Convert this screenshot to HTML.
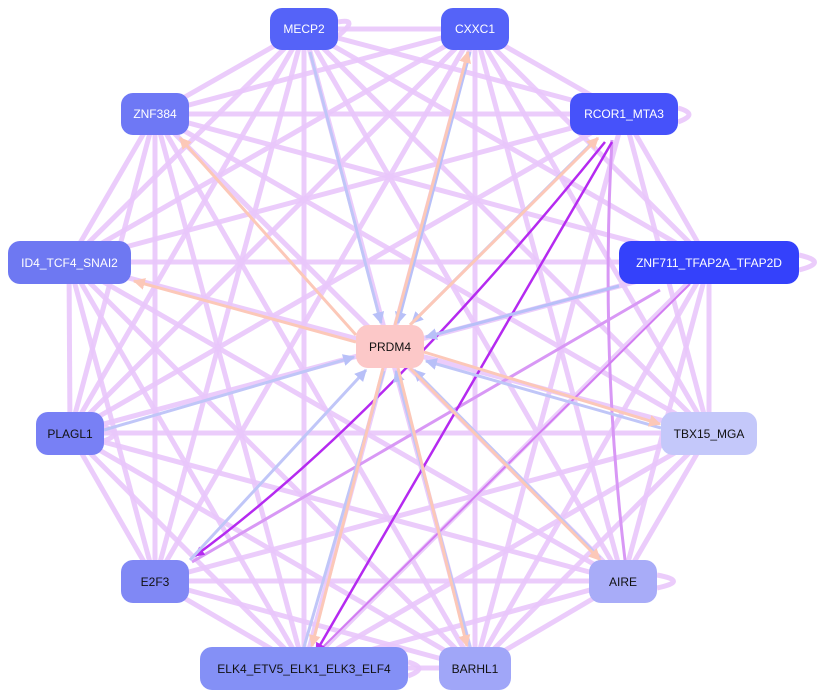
<!DOCTYPE html>
<html><head><meta charset="utf-8"><style>
body{margin:0;width:830px;height:698px;background:#fff;overflow:hidden}
svg{position:absolute;left:0;top:0}
.n{position:absolute;border-radius:12px;font:12px "Liberation Sans",sans-serif;display:flex;align-items:center;justify-content:center;color:#fff}
.d{color:#111}
</style></head><body>
<svg width="830" height="698">
<defs>
<marker id="ab" viewBox="0 0 10 10" refX="9" refY="5" markerWidth="4" markerHeight="4" orient="auto"><path d="M0 0L10 5L0 10z" fill="#b8c0f8"/></marker>
<marker id="ap" viewBox="0 0 10 10" refX="9" refY="5" markerWidth="4" markerHeight="4" orient="auto"><path d="M0 0L10 5L0 10z" fill="#fcc8b8"/></marker>
<marker id="am" viewBox="0 0 10 10" refX="9" refY="5" markerWidth="4" markerHeight="4" orient="auto"><path d="M0 0L10 5L0 10z" fill="#b52af0"/></marker>
</defs>
<g stroke="#e9c6fb" stroke-width="5" stroke-opacity="0.9" fill="none">
<line x1="304" y1="29" x2="475" y2="29"/><line x1="304" y1="29" x2="155" y2="114"/><line x1="304" y1="29" x2="624" y2="114"/><line x1="304" y1="29" x2="69" y2="262"/><line x1="304" y1="29" x2="709" y2="262"/><line x1="304" y1="29" x2="70" y2="433"/><line x1="304" y1="29" x2="709" y2="433"/><line x1="304" y1="29" x2="155" y2="581"/><line x1="304" y1="29" x2="623" y2="581"/><line x1="304" y1="29" x2="304" y2="668"/><line x1="304" y1="29" x2="475" y2="668"/>
<line x1="475" y1="29" x2="155" y2="114"/><line x1="475" y1="29" x2="624" y2="114"/><line x1="475" y1="29" x2="69" y2="262"/><line x1="475" y1="29" x2="709" y2="262"/><line x1="475" y1="29" x2="70" y2="433"/><line x1="475" y1="29" x2="709" y2="433"/><line x1="475" y1="29" x2="155" y2="581"/><line x1="475" y1="29" x2="623" y2="581"/><line x1="475" y1="29" x2="304" y2="668"/><line x1="475" y1="29" x2="475" y2="668"/>
<line x1="155" y1="114" x2="624" y2="114"/><line x1="155" y1="114" x2="69" y2="262"/><line x1="155" y1="114" x2="709" y2="262"/><line x1="155" y1="114" x2="70" y2="433"/><line x1="155" y1="114" x2="709" y2="433"/><line x1="155" y1="114" x2="155" y2="581"/><line x1="155" y1="114" x2="623" y2="581"/><line x1="155" y1="114" x2="304" y2="668"/><line x1="155" y1="114" x2="475" y2="668"/>
<line x1="624" y1="114" x2="69" y2="262"/><line x1="624" y1="114" x2="709" y2="262"/><line x1="624" y1="114" x2="70" y2="433"/><line x1="624" y1="114" x2="709" y2="433"/><line x1="624" y1="114" x2="475" y2="668"/>
<line x1="69" y1="262" x2="709" y2="262"/><line x1="69" y1="262" x2="70" y2="433"/><line x1="69" y1="262" x2="709" y2="433"/><line x1="69" y1="262" x2="155" y2="581"/><line x1="69" y1="262" x2="623" y2="581"/><line x1="69" y1="262" x2="304" y2="668"/><line x1="69" y1="262" x2="475" y2="668"/>
<line x1="709" y1="262" x2="70" y2="433"/><line x1="709" y1="262" x2="709" y2="433"/><line x1="709" y1="262" x2="623" y2="581"/><line x1="709" y1="262" x2="475" y2="668"/><line x1="709" y1="262" x2="304" y2="668"/>
<line x1="70" y1="433" x2="709" y2="433"/><line x1="70" y1="433" x2="155" y2="581"/><line x1="70" y1="433" x2="623" y2="581"/><line x1="70" y1="433" x2="304" y2="668"/><line x1="70" y1="433" x2="475" y2="668"/>
<line x1="709" y1="433" x2="155" y2="581"/><line x1="709" y1="433" x2="623" y2="581"/><line x1="709" y1="433" x2="304" y2="668"/><line x1="709" y1="433" x2="475" y2="668"/>
<line x1="155" y1="581" x2="623" y2="581"/><line x1="155" y1="581" x2="304" y2="668"/><line x1="155" y1="581" x2="475" y2="668"/>
<line x1="623" y1="581" x2="304" y2="668"/><line x1="623" y1="581" x2="475" y2="668"/>
<line x1="304" y1="668" x2="475" y2="668"/>
<path d="M338 22 Q360 18 338 36"/><path d="M678 108 Q700 114 678 122"/><path d="M799 255 Q830 262 799 270"/><path d="M104 427 Q125 433 104 441"/><path d="M657 575 Q690 581 657 588"/><path d="M408 662 Q430 668 408 676"/>
</g>
<g stroke="#d898f5" stroke-width="3" fill="none">
<path d="M612 140 Q600 350 625 560"/>
<line x1="660" y1="290" x2="192" y2="562"/>
<line x1="690" y1="284" x2="320" y2="650" stroke="#d27cf2" stroke-width="2"/>
</g>
<g stroke-width="3" fill="none">
<path d="M605 142 Q380 420 195 556" stroke="#b52af0" stroke-width="2.5" marker-end="url(#am)"/>
<line x1="612" y1="142" x2="316" y2="652" stroke="#b52af0" stroke-width="2.5" marker-end="url(#am)"/>
<line x1="310" y1="52" x2="381" y2="323" stroke="#c0c6f8" marker-end="url(#ab)"/>
<line x1="470" y1="52" x2="398" y2="323" stroke="#b8c0f8" marker-end="url(#ab)"/>
<line x1="590" y1="145" x2="412" y2="323" stroke="#b8c0f8" marker-end="url(#ab)"/>
<line x1="619" y1="286" x2="426" y2="337" stroke="#b8c0f8" marker-end="url(#ab)"/>
<line x1="104" y1="430" x2="354" y2="357" stroke="#c0c6f8" marker-end="url(#ab)"/>
<line x1="190" y1="560" x2="366" y2="370" stroke="#c0c6f8" marker-end="url(#ab)"/>
<line x1="661" y1="428" x2="426" y2="361" stroke="#c0c6f8" marker-end="url(#ab)"/>
<line x1="600" y1="558" x2="414" y2="370" stroke="#c0c6f8" marker-end="url(#ab)"/>
<line x1="470" y1="647" x2="396" y2="371" stroke="#c0c6f8" marker-end="url(#ab)"/>
<line x1="304" y1="647" x2="384" y2="371" stroke="#c0c6f8"/>
<line x1="356" y1="335" x2="180" y2="138" stroke="#fcc8b8" marker-end="url(#ap)"/>
<line x1="356" y1="342" x2="134" y2="281" stroke="#fcc8b8" marker-end="url(#ap)"/>
<line x1="395" y1="325" x2="468" y2="52" stroke="#fcc8b8" marker-end="url(#ap)"/>
<line x1="410" y1="325" x2="598" y2="138" stroke="#fcc8b8" marker-end="url(#ap)"/>
<line x1="424" y1="352" x2="660" y2="424" stroke="#fcc8b8" marker-end="url(#ap)"/>
<line x1="410" y1="368" x2="600" y2="560" stroke="#fcc8b8" marker-end="url(#ap)"/>
<line x1="383" y1="368" x2="312" y2="646" stroke="#fcc8b8" marker-end="url(#ap)"/>
<line x1="398" y1="368" x2="467" y2="646" stroke="#fcc8b8" marker-end="url(#ap)"/>
</g>
</svg>
<div class="n" style="left:270px;top:8px;width:68px;height:42px;background:#5563f8">MECP2</div>
<div class="n" style="left:441px;top:8px;width:68px;height:42px;background:#5563f8">CXXC1</div>
<div class="n" style="left:121px;top:93px;width:68px;height:42px;background:#6e78f5">ZNF384</div>
<div class="n" style="left:570px;top:93px;width:108px;height:42px;background:#4652fa">RCOR1_MTA3</div>
<div class="n" style="left:8px;top:241px;width:123px;height:43px;background:#6e78f2">ID4_TCF4_SNAI2</div>
<div class="n" style="left:619px;top:241px;width:180px;height:43px;background:#3441fb">ZNF711_TFAP2A_TFAP2D</div>
<div class="n d" style="left:356px;top:325px;width:68px;height:43px;background:#fcc8c8">PRDM4</div>
<div class="n d" style="left:36px;top:412px;width:68px;height:43px;background:#7880f5">PLAGL1</div>
<div class="n d" style="left:661px;top:412px;width:96px;height:43px;background:#c4c8fa">TBX15_MGA</div>
<div class="n d" style="left:121px;top:560px;width:68px;height:43px;background:#8088f5">E2F3</div>
<div class="n d" style="left:589px;top:560px;width:68px;height:43px;background:#a8acf8">AIRE</div>
<div class="n d" style="left:200px;top:647px;width:208px;height:43px;background:#8490f6">ELK4_ETV5_ELK1_ELK3_ELF4</div>
<div class="n d" style="left:439px;top:647px;width:72px;height:43px;background:#a0a6f8">BARHL1</div>
</body></html>
